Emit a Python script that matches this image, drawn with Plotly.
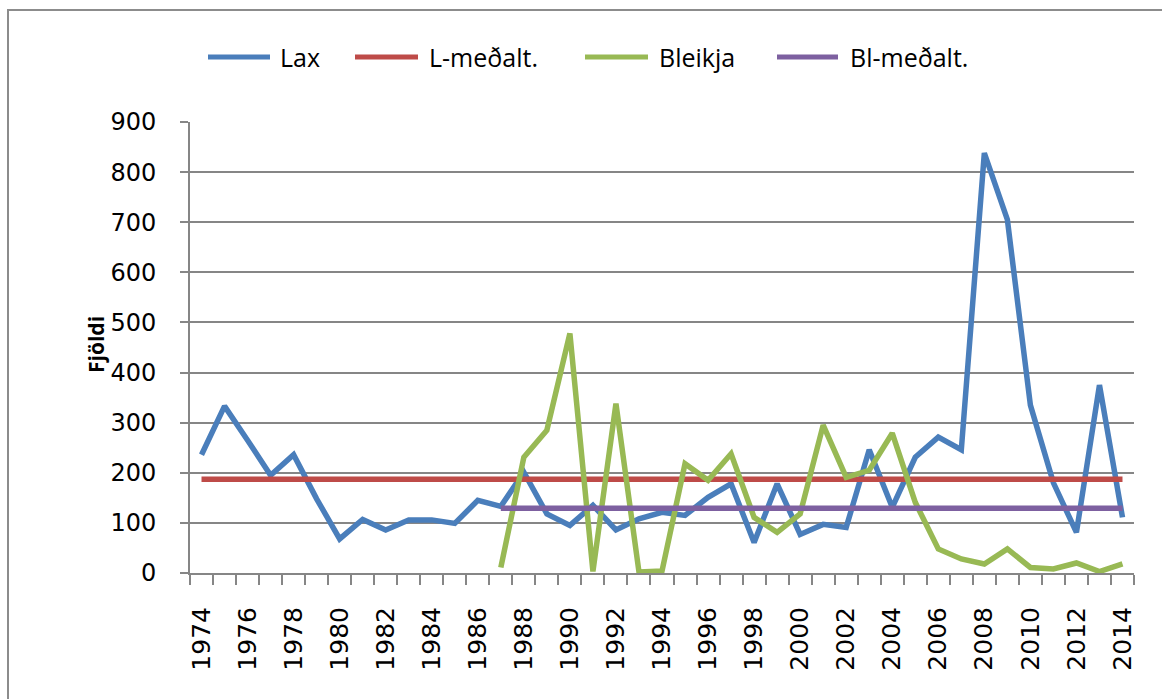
import plotly.graph_objects as go

years = list(range(1974, 2015))
lax = [236, 333, 265, 195, 236, 148, 68, 107, 86, 106, 106, 99, 145, 133,
       201, 118, 95, 135, 86, 108, 121, 115, 151, 178, 61, 178, 77, 97, 91,
       246, 131, 231, 271, 246, 838, 705, 335, 180, 81, 375, 111]
bleikja = [None] * 13 + [11, 231, 285, 478, 3, 338, 2, 4, 218, 185, 238, 111,
                         81, 118, 295, 191, 205, 279, 141, 48, 28, 18, 48, 11,
                         8, 20, 3, 18]
l_mean = [187] * 41
bl_mean = [None] * 13 + [129] * 28
xtick_years = list(range(1974, 2015, 2))
ytick_vals = list(range(0, 1000, 100))

names = ["Lax", "L-meðalt.", "Bleikja", "Bl-meðalt."]
colors = ["#4A7EBB", "#BE4B48", "#98B954", "#7D60A0"]
series = [lax, l_mean, bleikja, bl_mean]

W, H = 1162, 699
L, R, T, B = 190, 28, 122, 126
PW, PH = W - L - R, H - T - B

def px(x):
    return (x - L) / PW

def py(y):
    return (H - B - y) / PH

fig = go.Figure()
for name, col, vals in zip(names, colors, series):
    fig.add_trace(go.Scatter(x=years, y=vals, mode="lines", name=name,
                             line=dict(color=col, width=5.5), showlegend=False,
                             connectgaps=False))

grid = "#868686"
fig.update_layout(
    width=W, height=H,
    margin=dict(l=L, r=R, t=T, b=B),
    paper_bgcolor="white", plot_bgcolor="white",
    font=dict(family="DejaVu Sans", color="black"),
    xaxis=dict(range=[1973.5, 2014.5], tickmode="array", tickvals=xtick_years,
               ticktext=[str(y) for y in xtick_years], tickangle=-90,
               ticks="outside", ticklen=10, tickcolor="rgba(0,0,0,0)",
               ticklabelstandoff=12,
               tickfont=dict(size=25, family="DejaVu Sans"),
               showgrid=False, zeroline=False, showline=True, linecolor=grid, linewidth=2,
               minor=dict(tickmode="linear", tick0=1973.5, dtick=1, ticks="outside",
                          ticklen=10, tickwidth=2, tickcolor=grid, showgrid=False)),
    yaxis=dict(range=[0, 900], tickmode="array", tickvals=ytick_vals,
               ticks="outside", ticklen=8, tickwidth=2, tickcolor=grid,
               ticklabelstandoff=19,
               tickfont=dict(size=24, family="DejaVu Sans"),
               showgrid=True, gridcolor=grid, gridwidth=1.5, zeroline=False,
               showline=True, linecolor=grid, linewidth=2),
)

# outer chart border
fig.add_shape(type="rect", xref="paper", yref="paper",
              x0=px(8), x1=px(1175), y0=py(712), y1=py(10),
              line=dict(color="#8c8c8c", width=2), fillcolor="rgba(0,0,0,0)", layer="below")

# y-axis title
fig.add_annotation(text="<b>Fjöldi</b>", xref="paper", yref="paper",
                   x=px(96), y=py(345), textangle=-90, showarrow=False,
                   xanchor="center", yanchor="middle",
                   font=dict(size=21, family="Open Sans", color="black"))

# legend (manual, to match the long legend line keys)
leg_line_x = [(208, 270), (355, 418), (585, 648), (777, 838)]
leg_text_x = [278, 427, 657, 848]
leg_y = 57
for name, col, (a, b), tx in zip(names, colors, leg_line_x, leg_text_x):
    fig.add_shape(type="line", xref="paper", yref="paper",
                  x0=px(a), x1=px(b), y0=py(leg_y), y1=py(leg_y),
                  line=dict(color=col, width=5))
    fig.add_annotation(text=name, xref="paper", yref="paper",
                       x=px(tx), y=py(leg_y), showarrow=False,
                       xanchor="left", yanchor="middle",
                       font=dict(size=25, family="Open Sans", color="black"))

fig.write_html("out.html", config={"displayModeBar": False},
               post_script="document.body.style.margin='0';")
